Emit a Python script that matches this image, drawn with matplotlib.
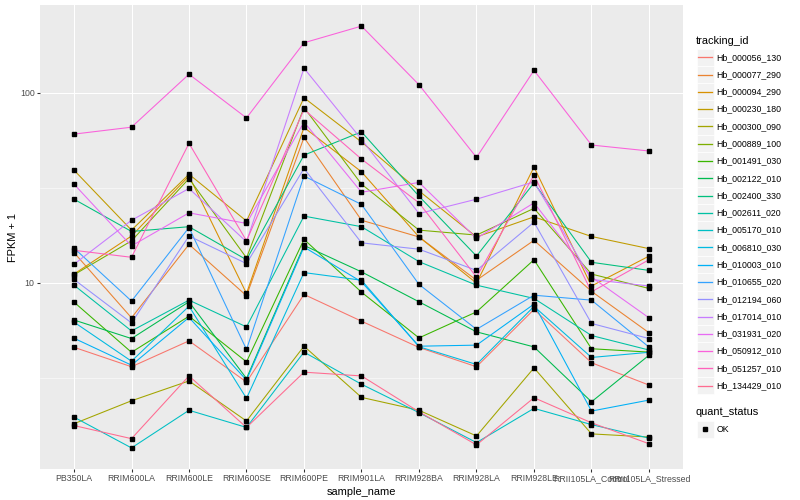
import matplotlib.pyplot as plt
import numpy as np
from matplotlib.patches import Rectangle
from matplotlib.lines import Line2D

plt.rcParams['font.family'] = ['Liberation Sans', 'DejaVu Sans']

samples = ["PB350LA", "RRIM600LA", "RRIM600LE", "RRIM600SE", "RRIM600PE",
           "RRIM901LA", "RRIM928BA", "RRIM928LA", "RRIM928LE",
           "RRII105LA_Control", "RRII105LA_Stressed"]

tracking_ids = ["Hb_000056_130", "Hb_000077_290", "Hb_000094_290", "Hb_000230_180",
                "Hb_000300_090", "Hb_000889_100", "Hb_001491_030", "Hb_002122_010",
                "Hb_002400_330", "Hb_002611_020", "Hb_005170_010", "Hb_006810_030",
                "Hb_010003_010", "Hb_010655_020", "Hb_012194_060", "Hb_017014_010",
                "Hb_031931_020", "Hb_050912_010", "Hb_051257_010", "Hb_134429_010"]

colors = ["#F8766D", "#EA8331", "#D89000", "#C09B00", "#A3A500", "#7CAE00",
          "#39B600", "#00BB4E", "#00BF7D", "#00C1A3", "#00BFC4", "#00BAE0",
          "#00B0F6", "#35A2FF", "#9590FF", "#C77CFF", "#E76BF3", "#FA62DB",
          "#FF62BC", "#FF6C91"]

# FPKM + 1, one list per gene, in sample order
hb_000056_130 = [4.57, 3.61, 4.94, 3.0, 8.67, 6.27, 4.56, 3.61, 7.23, 3.79, 2.89]
hb_000077_290 = [14.4, 6.53, 15.9, 8.53, 58.1, 21.3, 17.4, 10.3, 16.7, 9.0, 5.45]
hb_000094_290 = [11.1, 17.6, 36.4, 8.77, 65.6, 38.3, 17.4, 9.94, 40.6, 9.6, 13.8]
hb_000230_180 = [39.1, 18.9, 37.2, 21.1, 94.0, 55.0, 30.4, 17.4, 22.2, 17.5, 15.1]
hb_000300_090 = [1.81, 2.39, 3.04, 1.87, 4.63, 2.49, 2.13, 1.56, 3.56, 1.6, 1.54]
hb_000889_100 = [11.0, 16.6, 35.3, 13.5, 83.5, 33.0, 18.9, 17.8, 24.6, 11.1, 9.32]
hb_001491_030 = [7.9, 4.3, 6.66, 3.83, 16.9, 8.91, 5.12, 7.02, 13.2, 4.49, 4.31]
hb_002122_010 = [6.36, 5.08, 7.93, 3.13, 15.7, 11.4, 7.93, 5.51, 4.59, 2.36, 4.15]
hb_002400_330 = [27.5, 18.6, 19.7, 13.2, 46.9, 62.2, 28.5, 13.8, 33.5, 12.8, 11.6]
hb_002611_020 = [9.7, 5.57, 8.09, 5.85, 22.4, 19.7, 12.9, 9.7, 8.26, 5.27, 4.42]
hb_005170_010 = [1.96, 1.35, 2.13, 1.73, 4.31, 2.92, 2.07, 1.44, 2.18, 1.79, 1.52]
hb_006810_030 = [6.2, 3.86, 7.52, 2.46, 11.3, 10.3, 4.6, 3.71, 7.5, 4.04, 4.3]
hb_010003_010 = [5.1, 3.68, 6.56, 3.07, 15.4, 10.1, 4.63, 4.69, 7.71, 2.11, 2.41]
hb_010655_020 = [15.2, 8.0, 19.5, 4.45, 36.4, 25.8, 9.79, 5.68, 8.59, 8.09, 4.58]
hb_012194_060 = [10.4, 6.14, 17.6, 12.6, 39.9, 16.2, 15.0, 11.6, 20.8, 6.1, 5.08]
hb_017014_010 = [12.5, 21.3, 31.3, 16.4, 134.5, 56.8, 23.1, 27.5, 33.9, 10.4, 9.6]
hb_031931_020 = [33.0, 15.6, 23.3, 20.5, 70.1, 29.9, 33.7, 17.1, 26.3, 10.7, 6.53]
hb_050912_010 = [60.5, 65.8, 125.0, 73.6, 183.0, 224.0, 110.0, 45.6, 131.0, 53.0, 49.3]
hb_051257_010 = [14.8, 13.6, 54.1, 16.6, 81.6, 44.7, 26.3, 10.7, 36.8, 8.95, 13.2]
hb_134429_010 = [1.77, 1.51, 3.23, 1.73, 3.38, 3.23, 2.09, 1.40, 2.48, 1.83, 1.42]

series = [hb_000056_130, hb_000077_290, hb_000094_290, hb_000230_180, hb_000300_090,
          hb_000889_100, hb_001491_030, hb_002122_010, hb_002400_330, hb_002611_020,
          hb_005170_010, hb_006810_030, hb_010003_010, hb_010655_020, hb_012194_060,
          hb_017014_010, hb_031931_020, hb_050912_010, hb_051257_010, hb_134429_010]

W, H = 800, 500
PX = 72 / 100  # points per pixel at dpi 100


def fx(x):
    return x / W


def fy(y):
    return 1 - y / H


fig = plt.figure(figsize=(8, 5), dpi=100)
ax = fig.add_axes([fx(39.5), fy(469), fx(683.5) - fx(39.5), fy(5) - fy(469)])
ax.set_facecolor("#EBEBEB")
for s in ax.spines.values():
    s.set_visible(False)

x = np.arange(len(samples))
for vals, col in zip(series, colors):
    ax.plot(x, vals, color=col, lw=1.07 * PX, zorder=3)
for vals in series:
    ax.plot(x, vals, ls="none", marker="s", ms=2.7, color="black", zorder=4)

ax.set_yscale("log")
allv = np.log10(np.concatenate(series))
lo, hi = allv.min(), allv.max()
pad = (hi - lo) * 0.05
ax.set_ylim(10 ** (lo - pad), 10 ** (hi + pad))
ax.set_xlim(-0.6, len(samples) - 1 + 0.6)

ax.set_yticks([10, 100])
ax.set_yticklabels(["10", "100"])
ax.yaxis.set_minor_locator(plt.FixedLocator([10 ** 0.5, 10 ** 1.5]))
ax.yaxis.set_minor_formatter(plt.NullFormatter())
ax.set_xticks(x)
ax.set_xticklabels(samples)

ax.grid(which="major", color="white", lw=1.07 * PX, zorder=0)
ax.grid(which="minor", axis="y", color="white", lw=0.53 * PX, zorder=0)
ax.set_axisbelow(True)
ax.tick_params(which="major", length=2.75 * PX, width=1.07 * PX, color="#333333",
               labelsize=8.8 * PX, labelcolor="#4D4D4D", pad=2.2 * PX)
ax.tick_params(which="minor", length=0)

ax.set_xlabel("sample_name", fontsize=11 * PX, labelpad=3)
ax.set_ylabel("FPKM + 1", fontsize=11 * PX, labelpad=1)

# legend: tracking_id
fig.text(fx(696), fy(40.5), "tracking_id", fontsize=11 * PX, va="center", ha="left")
key = 17.28
y0 = 57.3
for i, (tid, col) in enumerate(zip(tracking_ids, colors)):
    yc = y0 + i * key
    fig.patches.append(Rectangle((fx(696.5), fy(yc + key / 2)), fx(key), key / H,
                                 transform=fig.transFigure, facecolor="#F2F2F2",
                                 edgecolor="white", lw=0.5, zorder=1))
    fig.lines.append(Line2D([fx(698.2), fx(712.1)], [fy(yc), fy(yc)],
                            transform=fig.transFigure, color=col, lw=1.3 * PX,
                            zorder=5))
    fig.text(fx(716.5), fy(yc), tid, fontsize=8.8 * PX, va="center", ha="left")

# legend: quant_status
fig.text(fx(696), fy(412.3), "quant_status", fontsize=11 * PX, va="center", ha="left")
yc = 429.3
fig.patches.append(Rectangle((fx(696.5), fy(yc + key / 2)), fx(key), key / H,
                             transform=fig.transFigure, facecolor="#F2F2F2",
                             edgecolor="white", lw=0.5, zorder=1))
fig.lines.append(Line2D([fx(705.1)], [fy(yc)], transform=fig.transFigure,
                        ls="none", marker="s", ms=2.7, color="black", zorder=5))
fig.text(fx(716.5), fy(yc), "OK", fontsize=8.8 * PX, va="center", ha="left")

fig.savefig("out.png", dpi=100)
